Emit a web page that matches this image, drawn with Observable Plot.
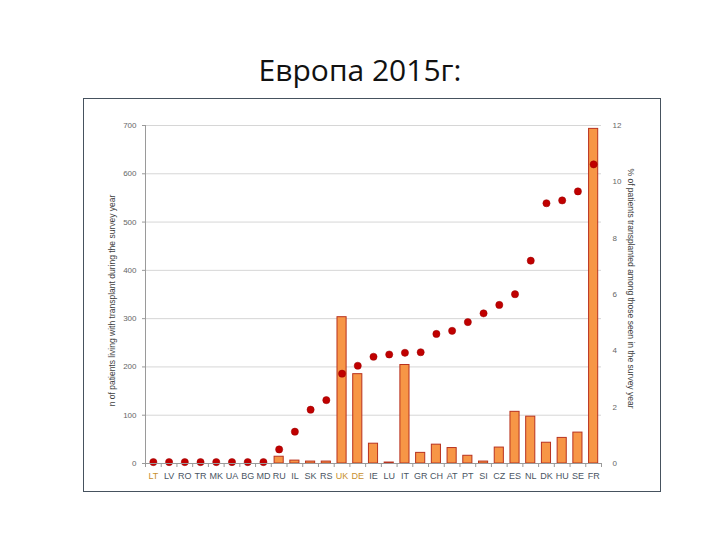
<!DOCTYPE html>
<html>
<head>
<meta charset="utf-8">
<script src="https://cdn.jsdelivr.net/npm/d3@7"></script>
<script src="https://cdn.jsdelivr.net/npm/@observablehq/plot@0.6"></script>
<style>
  html, body { margin: 0; padding: 0; background: #fff; width: 720px; height: 540px; overflow: hidden; }
  #title { position: absolute; left: 0; top: 52px; width: 720px; text-align: center;
           font-family: "Open Sans", sans-serif; font-size: 30px; line-height: 1.2; color: #111; }
  #box { position: absolute; left: 83px; top: 98px; width: 576px; height: 392px;
         border: 1.5px solid #46525e; background: #fff; }
  #box svg { display: block; }
</style>
</head>
<body>
<div id="title">Европа 2015г:</div>
<div id="box"></div>
<script>
const countries = ["LT","LV","RO","TR","MK","UA","BG","MD","RU","IL","SK","RS","UK","DE","IE","LU","IT","GR","CH","AT","PT","SI","CZ","ES","NL","DK","HU","SE","FR"];
const patients  = [0,0,0,0,0,0,0,0,14,6,4,4,303,185,41,2,204,22,39,32,16,4,33,107,97,43,53,64,693];
const percent   = [0.05,0.05,0.05,0.05,0.05,0.05,0.05,0.05,0.5,1.13,1.91,2.25,3.19,3.47,3.79,3.87,3.93,3.95,4.6,4.71,5.02,5.33,5.63,6.01,7.2,9.24,9.34,9.66,10.62];
const highlighted = ["LT","UK","DE"];
const leftTicks  = [0,100,200,300,400,500,600,700];
const rightTicks = [0,2,4,6,8,10,12];
const leftTitle  = "n of patients living with transplant during the survey year";
const rightTitle = "% of patients transplanted among those seen in the survey year";

const leftMax = 700, rightMax = 12;
const toLeft = v => v * leftMax / rightMax;

const W = 576, H = 392;
const mL = 61, mR = 59, mT = 26, mB = 28;
const step = (W - mL - mR) / countries.length;

const table = countries.map((c, i) => ({country: c, n: patients[i], pct: percent[i]}));

const chart = Plot.plot({
  width: W, height: H,
  marginLeft: mL, marginRight: mR, marginTop: mT, marginBottom: mB,
  style: {fontFamily: "'Liberation Sans', Arial, sans-serif", fontSize: "8px", color: "#666", background: "#fff"},
  x: {domain: countries, paddingInner: 0.42, paddingOuter: 0.21, round: false, label: null},
  y: {domain: [0, leftMax], label: null},
  marks: [
    Plot.gridY(leftTicks, {stroke: "#d6d6d6", strokeOpacity: 1}),
    Plot.barY(table, {x: "country", y: "n", fill: "#f79646", stroke: "#b8321f", strokeWidth: 1}),
    Plot.dot(table, {x: "country", y: d => toLeft(d.pct), r: 3.6, fill: "#c00000", stroke: "#9b0000", strokeWidth: 0.5}),
    Plot.ruleY([0], {stroke: "#9a9a9a"}),
    Plot.ruleX(countries, {x: d => d, y1: 0, y2: 0, insetBottom: -4, dx: -step / 2, stroke: "#9a9a9a"}),
    Plot.ruleX([countries[countries.length - 1]], {x: d => d, y1: 0, y2: 0, insetBottom: -4, dx: step / 2, stroke: "#9a9a9a"}),
    Plot.ruleX([countries[0]], {x: d => d, y1: 0, y2: leftMax, dx: -step / 2, stroke: "#9a9a9a"}),
    Plot.axisX({tickSize: 0, tickPadding: 9, label: null,
                fill: d => highlighted.includes(d) ? "#c8902e" : "#4a5563", fontSize: 9}),
    Plot.axisY({anchor: "left", ticks: leftTicks, tickSize: 3, tickPadding: 6, label: null, stroke: "#9a9a9a"}),
    Plot.axisY({anchor: "right", ticks: rightTicks.map(toLeft), tickFormat: v => String(Math.round(v * rightMax / leftMax)),
                tickSize: 0, tickPadding: 11, label: null}),
    Plot.text([leftTitle], {frameAnchor: "left", textAnchor: "middle", rotate: -90, dx: -33, dy: 6, fill: "#404040", fontSize: 8.5}),
    Plot.text([rightTitle], {frameAnchor: "right", textAnchor: "middle", rotate: 90, dx: 29, dy: -6, fill: "#404040", fontSize: 8.5})
  ]
});
document.getElementById("box").appendChild(chart);
</script>
</body>
</html>
